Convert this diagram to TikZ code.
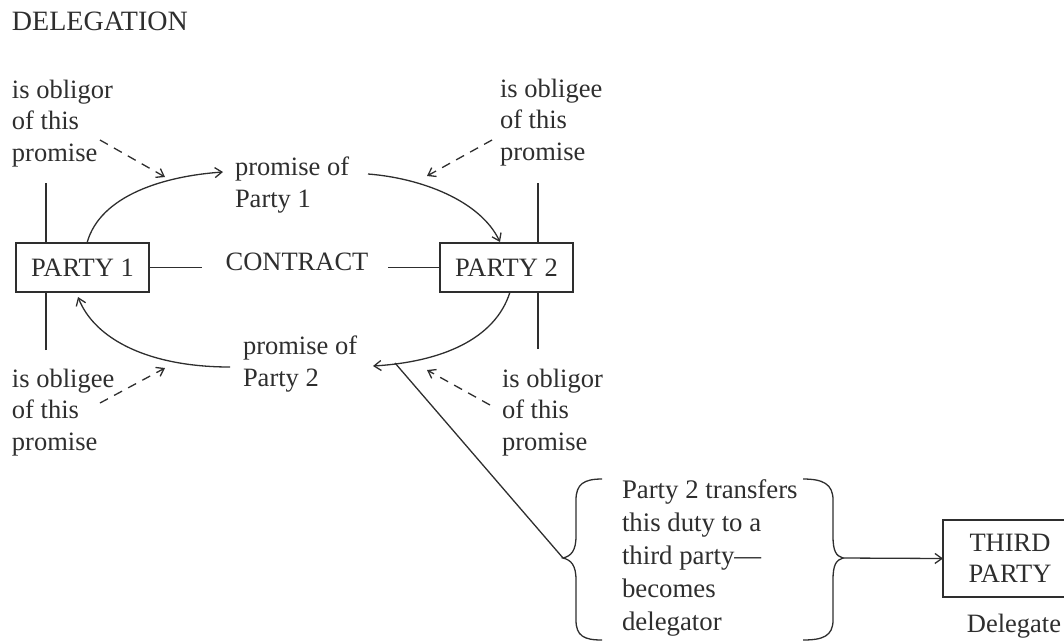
\documentclass[tikz,border=0pt]{standalone}
\usepackage{fontspec}
\setmainfont{Liberation Serif}
\usetikzlibrary{arrows.meta}
\definecolor{ink}{HTML}{2E2E2E}
\begin{document}
\begin{tikzpicture}[x=1pt,y=-1pt,
  every node/.style={inner sep=0pt,outer sep=0pt,text=ink,font=\fontsize{26.5}{31.5}\selectfont},
  lbl/.style={anchor=base west,align=left},
  partybox/.style={draw=ink,line width=1.3pt,minimum width=133pt,minimum height=49pt},
  conn/.style={draw=ink,line width=1.3pt},
  arr/.style={conn,-{Straight Barb[length=7pt,width=10pt,line width=1.3pt]}},
  darr/.style={arr,dash pattern=on 9pt off 7pt}]
\useasboundingbox (0,0) rectangle (1064,641);

\node[lbl,font=\fontsize{28}{33}\selectfont] (title) at (12,30) {DELEGATION};

% multi-line labels: base = baseline of last line
\node[lbl] (tl) at (12,161) {is obligor\\of this\\promise};
\node[lbl] (tr) at (500,160) {is obligee\\of this\\promise};
\node[lbl] (bl) at (12,450) {is obligee\\of this\\promise};
\node[lbl] (br) at (502,450) {is obligor\\of this\\promise};

\node[lbl] (pr1) at (235,207) {promise of\\Party 1};
\node[lbl] (pr2) at (243,386) {promise of\\Party 2};

\node[partybox] (p1) at (82.5,267.5) {PARTY 1};
\node[partybox] (p2) at (506.5,267.5) {PARTY 2};
\node (ct) at (297,262) {CONTRACT};

\node[draw=ink,line width=1.3pt,minimum width=134pt,minimum height=77pt,align=center] (tp) at (1010,558.5) {THIRD\\PARTY};
\node[anchor=base] (dg) at (1014,632) {Delegate};

\node[lbl,font=\fontsize{26.8}{33}\selectfont] (bt) at (622,630) {Party 2 transfers\\this duty to a\\third party—\\becomes\\delegator};

% vertical lines
\coordinate (v1a) at (46,183); \coordinate (v1b) at (46,350);
\coordinate (v2a) at (538,183); \coordinate (v2b) at (538,349);
\draw[conn] (v1a) -- (v1a |- p1.north);
\draw[conn] (v1b) -- (v1b |- p1.south);
\draw[conn] (v2a) -- (v2a |- p2.north);
\draw[conn] (v2b) -- (v2b |- p2.south);

% contract lines
\draw[conn] (p1.east) -- ([xshift=-24pt]ct.west |- p1.east);
\draw[conn] ([xshift=20pt]ct.east |- p2.west) -- (p2.west);

% promise curves
\coordinate (c1s) at (87,243); \coordinate (c1e) at (223,172);
\draw[arr] (c1s) .. controls (100,195) and (165,176) .. (c1e);
\coordinate (c2s) at (368,174); \coordinate (c2e) at (500,242);
\draw[arr] (c2s) .. controls (420,178) and (480,200) .. (c2e);
\coordinate (c3s) at (510,292); \coordinate (c3e) at (373,366);
\draw[arr] (c3s) .. controls (495,340) and (440,362) .. (c3e);
\coordinate (c4s) at (230,367); \coordinate (c4e) at (78,297);
\draw[arr] (c4s) .. controls (150,367) and (95,340) .. (c4e);

% dashed arrows
\coordinate (d1s) at (100,140); \coordinate (d1e) at (165,177);
\draw[darr] (d1s) -- (d1e);
\coordinate (d2s) at (492,140); \coordinate (d2e) at (427,176);
\draw[darr] (d2s) -- (d2e);
\coordinate (d3s) at (100,403); \coordinate (d3e) at (165,368);
\draw[darr] (d3s) -- (d3e);
\coordinate (d4s) at (490,405); \coordinate (d4e) at (427,370);
\draw[darr] (d4s) -- (d4e);

% braces
\coordinate (lbt) at (563,558); \coordinate (rbt) at (843,558);
\draw[conn] (602,479) .. controls (584,479) and (576,484) .. (576,500) -- (576,536)
  .. controls (576,551) and (571,556) .. (lbt)
  .. controls (571,560) and (576,565) .. (576,580) -- (576,620)
  .. controls (576,636) and (584,640) .. (602,640);
\draw[conn] (803,479) .. controls (823,479) and (833,484) .. (833,500) -- (833,536)
  .. controls (833,551) and (836,556) .. (rbt)
  .. controls (836,560) and (833,565) .. (833,580) -- (833,620)
  .. controls (833,636) and (823,640) .. (803,640);

% delegation line and arrow
\coordinate (dl) at (395,363);
\draw[conn] (dl) -- (lbt);
\draw[arr] (rbt) -- (tp.west);
\end{tikzpicture}
\end{document}
